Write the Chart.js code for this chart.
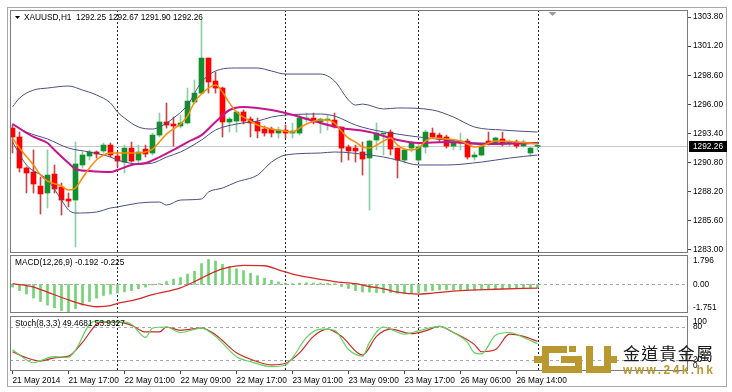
<!DOCTYPE html>
<html>
<head>
<meta charset="utf-8">
<script src="https://cdn.jsdelivr.net/npm/chart.js@4.4.1/dist/chart.umd.min.js"></script>
<style>
  html, body { margin: 0; padding: 0; background: #fff; }
  body { width: 732px; height: 392px; position: relative; overflow: hidden; }
  #frame { position: absolute; left: 7px; top: 7px; width: 720px; height: 380px; border: 1px solid #a8a8a8; box-sizing: border-box; }
  .pane { position: absolute; left: 10px; width: 722px; }
</style>
</head>
<body>
<div id="frame"></div>
<div class="pane" style="top:10px;height:243px"><canvas id="mainChart"></canvas></div>
<div class="pane" style="top:255px;height:58px"><canvas id="macdChart"></canvas></div>
<div class="pane" style="top:316px;height:76px"><canvas id="stochChart"></canvas></div>
<script>
// XAUUSD H1 candles, bar 0 = 21 May 2014
const openP = [1293.89, 1293.09, 1290.32, 1289.96, 1288.71, 1288.09, 1289.78, 1288.62, 1287.55, 1287.46,
  1290.59, 1291.39, 1291.75, 1291.84, 1292.37, 1291.39, 1290.85, 1292.10, 1291.03, 1292.01,
  1291.66, 1293.26, 1294.43, 1294.25, 1294.07, 1294.34, 1296.21, 1297.01, 1300.14, 1298.09,
  1297.46, 1294.43, 1294.51, 1295.32, 1294.69, 1294.43, 1293.80, 1293.80, 1293.44, 1293.71,
  1293.44, 1293.44, 1294.69, 1294.78, 1294.43, 1294.60, 1294.60, 1293.98, 1292.19, 1292.10,
  1291.75, 1291.21, 1292.82, 1293.35, 1293.53, 1292.10, 1291.03, 1292.10, 1291.03, 1292.19,
  1293.44, 1293.26, 1293.09, 1292.28, 1292.55, 1292.73, 1291.30, 1291.48, 1292.73, 1292.55,
  1292.91, 1292.55, 1292.64, 1292.28, 1291.66, 1292.25];
const highP = [1294.16, 1293.53, 1290.41, 1291.93, 1289.51, 1291.93, 1290.59, 1288.98, 1288.09, 1292.64,
  1291.75, 1291.93, 1291.84, 1292.55, 1292.55, 1291.75, 1292.37, 1292.64, 1292.37, 1292.37,
  1293.44, 1295.23, 1296.12, 1294.87, 1295.05, 1297.46, 1298.18, 1303.53, 1300.14, 1298.89,
  1297.55, 1294.87, 1295.41, 1295.50, 1294.87, 1294.78, 1294.07, 1293.98, 1293.98, 1294.16,
  1294.34, 1295.05, 1295.23, 1295.23, 1294.78, 1295.05, 1295.23, 1293.98, 1292.37, 1292.37,
  1292.64, 1292.82, 1294.34, 1293.44, 1293.71, 1292.10, 1292.10, 1292.73, 1292.55, 1293.71,
  1293.89, 1293.44, 1293.26, 1292.82, 1293.44, 1292.91, 1291.75, 1292.55, 1293.53, 1293.09,
  1293.53, 1292.82, 1292.82, 1292.82, 1292.19, 1292.67];
const lowP = [1291.66, 1289.96, 1288.09, 1288.09, 1286.21, 1286.75, 1288.09, 1286.12, 1286.84, 1283.27,
  1290.32, 1291.03, 1291.21, 1291.66, 1291.30, 1290.41, 1289.87, 1290.85, 1290.76, 1291.30,
  1291.48, 1293.09, 1293.89, 1292.28, 1293.89, 1294.25, 1296.03, 1296.93, 1297.01, 1297.01,
  1293.09, 1293.53, 1293.53, 1294.25, 1293.09, 1293.00, 1293.17, 1293.09, 1293.00, 1293.00,
  1293.00, 1293.26, 1294.43, 1294.25, 1293.44, 1293.71, 1293.89, 1290.85, 1291.03, 1290.85,
  1289.69, 1286.57, 1291.93, 1291.48, 1291.48, 1289.43, 1290.76, 1291.75, 1290.85, 1291.66,
  1293.00, 1292.64, 1292.10, 1291.93, 1291.93, 1291.12, 1291.03, 1291.39, 1292.37, 1292.46,
  1292.28, 1292.28, 1292.10, 1292.19, 1291.39, 1291.90];
const closeP = [1293.09, 1290.32, 1289.87, 1288.89, 1288.00, 1289.69, 1288.44, 1287.46, 1287.37, 1290.68,
  1291.48, 1291.75, 1291.57, 1292.37, 1291.48, 1290.94, 1292.10, 1290.94, 1291.75, 1291.57,
  1293.26, 1294.43, 1294.16, 1294.07, 1294.34, 1296.30, 1297.01, 1300.14, 1298.00, 1297.46,
  1294.43, 1294.69, 1295.32, 1294.51, 1294.34, 1293.62, 1293.44, 1293.44, 1293.71, 1293.44,
  1293.62, 1294.78, 1294.78, 1294.43, 1294.69, 1294.69, 1293.98, 1292.10, 1291.84, 1291.84,
  1291.12, 1292.73, 1293.44, 1293.44, 1292.01, 1291.03, 1291.93, 1292.55, 1292.19, 1293.53,
  1293.09, 1292.91, 1292.28, 1292.64, 1292.73, 1291.30, 1291.48, 1292.28, 1292.46, 1293.00,
  1292.46, 1292.64, 1292.28, 1292.64, 1292.10, 1292.26];

// overlay lines, [bar, price]
const bbUpper = [[0,1295.77],[1,1296.57],[3,1297.28],[5,1297.46],[8,1297.64],[10,1297.28],[12,1296.84],[14,1296.12],
  [15,1295.32],[16,1294.78],[18,1293.98],[20,1293.80],[21,1293.98],[23,1294.78],[25,1295.94],[27,1298.00],[29,1298.98],
  [32,1299.25],[35,1299.25],[37,1298.98],[39,1298.71],[44,1298.71],[46,1298.09],[48,1296.39],[49,1295.94],[50,1296.03],
  [53,1295.59],[55,1295.68],[60,1295.50],[63,1294.87],[66,1293.98],[70,1293.71],[75,1293.53]];
const bbMiddle = [[0,1294.25],[2,1293.53],[5,1292.91],[8,1292.10],[11,1291.75],[14,1291.30],[15,1291.03],[18,1290.68],
  [20,1290.76],[22,1291.30],[24,1291.75],[27,1292.82],[29,1293.71],[32,1294.25],[35,1294.51],[37,1294.87],[39,1295.05],
  [44,1295.14],[46,1294.96],[49,1294.16],[51,1293.80],[55,1293.35],[58,1293.09],[62,1292.82],[67,1292.55],[75,1292.55]];
const bbLower = [[0,1292.64],[2,1290.59],[5,1289.25],[7,1287.46],[8,1286.57],[9,1286.30],[12,1286.39],[14,1286.75],
  [15,1286.84],[18,1287.19],[21,1287.28],[22,1287.01],[24,1287.46],[27,1287.55],[28,1288.18],[30,1288.53],[32,1289.07],
  [35,1289.69],[37,1290.85],[39,1291.48],[44,1291.66],[46,1291.75],[51,1291.48],[53,1291.30],[55,1291.03],[58,1290.59],
  [62,1290.59],[67,1290.85],[71,1291.21],[75,1291.48]];
const maSlow = [[0,1294.25],[3,1293.09],[5,1292.55],[6,1291.93],[8,1290.76],[9,1290.23],[11,1290.05],[14,1289.96],
  [15,1290.14],[17,1290.59],[19,1290.76],[21,1291.30],[23,1291.93],[25,1292.64],[27,1293.26],[29,1294.43],[31,1295.50],
  [33,1295.77],[37,1295.50],[39,1295.23],[44,1294.34],[47,1293.89],[51,1293.53],[55,1292.82],[58,1292.55],[62,1292.64],
  [67,1292.46],[75,1292.55]];
const maFast = [[0,1292.99],[1,1292.10],[3,1290.59],[4,1289.69],[5,1289.16],[7,1288.71],[8,1288.35],[9,1288.53],
  [10,1289.43],[11,1290.32],[12,1291.03],[13,1291.48],[14,1291.66],[17,1291.66],[19,1291.75],[20,1292.01],[22,1293.35],
  [24,1294.25],[25,1294.96],[26,1296.21],[27,1296.93],[28,1297.46],[29,1297.73],[30,1297.10],[31,1296.12],[32,1295.32],
  [34,1294.51],[35,1294.16],[37,1293.80],[39,1293.62],[40,1293.53],[41,1293.89],[42,1294.25],[44,1294.60],[45,1294.60],
  [46,1294.34],[47,1293.62],[48,1292.99],[49,1292.64],[50,1292.19],[51,1292.10],[52,1292.37],[53,1292.73],[54,1292.99],
  [55,1292.37],[56,1292.01],[57,1291.93],[58,1292.10],[59,1292.73],[60,1292.99],[62,1292.91],[64,1292.73],[65,1292.46],
  [66,1292.19],[67,1292.28],[69,1292.73],[72,1292.64],[75,1292.46]];

// MACD(12,26,9)
const macdMain = [-0.17, -0.38, -0.59, -0.84, -1.05, -1.27, -1.43, -1.60, -1.69, -1.48,
  -1.27, -1.05, -0.84, -0.68, -0.59, -0.53, -0.46, -0.38, -0.27, -0.17,
  -0.04, 0.04, 0.17, 0.32, 0.42, 0.63, 0.80, 1.27, 1.52, 1.43,
  1.22, 1.10, 0.95, 0.84, 0.68, 0.53, 0.38, 0.25, 0.15, 0.06,
  0.04, 0.08, 0.10, 0.08, 0.08, 0.06, 0.04, -0.13, -0.25, -0.38,
  -0.47, -0.47, -0.50, -0.52, -0.50, -0.55, -0.58, -0.56, -0.50, -0.42,
  -0.38, -0.34, -0.34, -0.34, -0.32, -0.34, -0.36, -0.32, -0.28, -0.26,
  -0.26, -0.24, -0.23, -0.21, -0.21, -0.192];
const macdSignal = [[0,0.04],[3,-0.17],[5,-0.48],[8,-0.95],[10,-1.22],[12,-1.37],[14,-1.30],[15,-1.16],[17,-1.00],
  [20,-0.63],[24,-0.21],[27,0.38],[29,0.80],[31,1.05],[33,1.16],[36,1.14],[38,0.89],[40,0.63],[43,0.38],[46,0.17],
  [49,0.04],[51,-0.13],[53,-0.27],[55,-0.48],[58,-0.60],[60,-0.53],[64,-0.38],[69,-0.30],[75,-0.225]];

// Stoch(8,3,3)
const stochMain = [[0,38.6],[1,29],[3,15],[4,19],[6,26],[8,25],[9,38],[11,85],[12,91],[14,89],[16,89],[17,85],[19,61],
  [20,78],[22,80],[24,70],[27,78],[29,63],[32,26],[34,17],[37,8],[39,11],[40,24],[42,61],[44,76],[46,74],[48,39],[50,27],
  [51,52],[53,80],[54,76],[56,67],[58,73],[61,81],[63,70],[65,52],[66,33],[67,31],[69,65],[71,70],[73,61],[75,49.4681]];
const stochSignal = [[0,35],[2,24],[4,18],[6,24],[8,27],[10,52],[12,85],[13,89],[15,89],[17,83],[19,71],[21,71],[22,80],
  [24,74],[27,78],[29,66],[32,33],[35,17],[37,11],[39,14],[41,33],[43,63],[45,76],[47,63],[50,29],[52,63],[54,76],[57,68],
  [59,73],[61,81],[63,70],[66,48],[67,35],[69,39],[71,67],[73,63],[75,53.9327]];

const timeTicks = [0, 8, 16, 24, 32, 40, 48, 56, 64, 72];
const timeLabels = ['21 May 2014', '21 May 17:00', '22 May 01:00', '22 May 09:00', '22 May 17:00',
  '23 May 01:00', '23 May 09:00', '23 May 17:00', '26 May 06:00', '26 May 14:00'];
const separators = [15, 39, 58, 75];
const priceTicks = [1303.80, 1301.20, 1298.60, 1296.00, 1293.40, 1290.80, 1288.20, 1285.60, 1283.00];
const macdTicks = [1.796, 0, -1.751];
const stochTicks = [100, 80, 20, 0];
const stochLevels = [80, 20];
const shiftBar = 77;

Chart.defaults.font.family = '"Liberation Sans", Arial, sans-serif';
Chart.defaults.font.size = 8.3;
Chart.defaults.color = '#000';
Chart.defaults.animation = false;
const FONT = '8.3px "Liberation Sans", Arial, sans-serif';

// 7 px per bar, bar 0 centred 2.5 px inside the panel
const X_MIN = -2.5 / 7;
const X_MAX = X_MIN + 678 / 7;

const pts = arr => arr.map(([x, y]) => ({ x, y }));
const last = closeP.length - 1;
const isUp = closeP.map((c, i) => c >= openP[i]);

function noPad(s) {
  s.paddingTop = 0; s.paddingBottom = 0; s.paddingLeft = 0; s.paddingRight = 0;
}

function xAxis(show) {
  const ax = { type: 'linear', min: X_MIN, max: X_MAX, offset: false, display: show };
  if (show) {
    Object.assign(ax, {
      position: 'bottom',
      afterFit: s => { s.height = 21; noPad(s); },
      afterBuildTicks: s => { s.ticks = timeTicks.map(v => ({ value: v })); },
      border: { display: false },
      grid: { drawOnChartArea: false, drawTicks: true, tickLength: 3, color: '#444' },
      ticks: { align: 'start', padding: 2, maxRotation: 0, autoSkip: false,
        callback: v => timeLabels[timeTicks.indexOf(v)] }
    });
  }
  return ax;
}

function yAxis(min, max, extra) {
  return Object.assign({
    type: 'linear', position: 'right', min: min, max: max,
    afterFit: s => { s.width = 44; noPad(s); },
    border: { display: false },
    grid: { drawOnChartArea: false, drawTicks: true, tickLength: 3, color: '#444' },
    ticks: { padding: 2 }
  }, extra || {});
}

const panelFrame = {
  id: 'panelFrame',
  beforeDatasetsDraw(chart) {
    const { ctx, chartArea: a, scales } = chart;
    ctx.save();
    ctx.strokeStyle = '#222';
    ctx.lineWidth = 1;
    ctx.setLineDash([2, 2]);
    separators.forEach(i => {
      const x = Math.round(scales.x.getPixelForValue(i)) + 0.5;
      ctx.beginPath(); ctx.moveTo(x, a.top); ctx.lineTo(x, a.bottom); ctx.stroke();
    });
    ctx.restore();
  },
  afterDraw(chart) {
    const { ctx, chartArea: a } = chart;
    ctx.save();
    ctx.strokeStyle = '#7a7a7a';
    ctx.lineWidth = 1;
    ctx.strokeRect(a.left + 0.5, a.top + 0.5, a.right - a.left - 1, a.bottom - a.top - 1);
    ctx.restore();
  }
};

function dottedLevels(chart, values) {
  const { ctx, chartArea: a, scales: { y } } = chart;
  ctx.save();
  ctx.strokeStyle = '#a8a8a8';
  ctx.setLineDash([3, 3]);
  values.forEach(v => {
    const py = Math.round(y.getPixelForValue(v)) + 0.5;
    ctx.beginPath(); ctx.moveTo(a.left, py); ctx.lineTo(a.right, py); ctx.stroke();
  });
  ctx.restore();
}

function sideLabels(chart, values, fmt) {
  const { ctx, chartArea: a, scales: { y } } = chart;
  ctx.save();
  ctx.font = FONT;
  ctx.fillStyle = '#000';
  ctx.textBaseline = 'middle';
  values.forEach(v => {
    const py = Math.min(Math.max(y.getPixelForValue(v), a.top + 6), a.bottom - 5);
    ctx.fillText(fmt(v), a.right + 5, py);
  });
  ctx.restore();
}

function title(chart, text) {
  const { ctx, chartArea: a } = chart;
  ctx.save();
  ctx.font = FONT;
  ctx.fillStyle = '#000';
  ctx.textBaseline = 'middle';
  ctx.fillText(text, a.left + 5, a.top + 8);
  ctx.restore();
}

const mainDecor = {
  id: 'mainDecor',
  beforeDatasetsDraw(chart) {
    const { ctx, chartArea: a, scales: { y } } = chart;
    const py = Math.round(y.getPixelForValue(closeP[last])) + 0.5;
    ctx.save();
    ctx.strokeStyle = '#c8c8c8';
    ctx.beginPath(); ctx.moveTo(a.left, py); ctx.lineTo(a.right, py); ctx.stroke();
    ctx.restore();
  },
  afterDraw(chart) {
    const { ctx, chartArea: a, scales: { x, y } } = chart;
    ctx.save();
    // symbol line
    ctx.fillStyle = '#000';
    ctx.beginPath();
    ctx.moveTo(a.left + 5, a.top + 6); ctx.lineTo(a.left + 10, a.top + 6); ctx.lineTo(a.left + 7.5, a.top + 9);
    ctx.closePath(); ctx.fill();
    ctx.font = FONT;
    ctx.textBaseline = 'middle';
    const head = 'XAUUSD,H1  ' + [openP[last], highP[last], lowP[last], closeP[last]].map(v => v.toFixed(2)).join(' ');
    ctx.fillText(head, a.left + 14, a.top + 8);
    // last price tag
    const py = Math.round(y.getPixelForValue(closeP[last]));
    ctx.fillRect(a.right + 1, py - 5, 38, 11);
    ctx.fillStyle = '#fff';
    ctx.fillText(closeP[last].toFixed(2), a.right + 5, py + 0.5);
    // chart shift marker
    const sx = Math.round(x.getPixelForValue(shiftBar)) + 0.5;
    ctx.fillStyle = '#9a9a9a';
    ctx.beginPath();
    ctx.moveTo(sx - 4, a.top + 2); ctx.lineTo(sx + 4, a.top + 2); ctx.lineTo(sx, a.top + 6);
    ctx.closePath(); ctx.fill();
    ctx.restore();
  }
};

const macdDecor = {
  id: 'macdDecor',
  beforeDatasetsDraw(chart) { dottedLevels(chart, [0]); },
  afterDraw(chart) {
    sideLabels(chart, macdTicks, v => v === 0 ? '0.00' : v.toString());
    title(chart, 'MACD(12,26,9) ' + macdMain[last].toFixed(3) + ' ' + macdSignal[macdSignal.length - 1][1].toFixed(3));
  }
};

function drawLogo(ctx) {
  ctx.save();
  ctx.translate(-10, -316); // page coordinates
  ctx.fillStyle = '#b9982f';
  const r = (x, y, w, h) => ctx.fillRect(x, y, w, h);
  r(534, 356, 8, 7);
  r(542, 346, 25, 7);
  r(542, 346, 7, 27);
  r(542, 366, 40, 7);
  r(575, 356, 7, 17);
  r(561, 356, 21, 7);
  r(569, 346, 7, 6);
  r(586, 346, 7, 27);
  r(604, 346, 7, 27);
  r(586, 366, 25, 7);
  r(611, 356, 6, 7);
  ctx.textBaseline = 'middle';
  ctx.fillStyle = '#1c1c1c';
  ctx.font = '17px "Noto Sans CJK TC", "Noto Sans CJK SC", sans-serif';
  const cn = '金道貴金屬';
  let w = ctx.measureText(cn).width;
  ctx.letterSpacing = Math.max(0, (90 - w) / 4) + 'px';
  ctx.fillText(cn, 623, 354);
  ctx.fillStyle = '#b9982f';
  ctx.font = 'bold 12px "Liberation Sans", Arial, sans-serif';
  ctx.letterSpacing = '0px';
  const url = 'www.24k.hk';
  w = ctx.measureText(url).width;
  ctx.letterSpacing = Math.max(0, (90 - w) / 9) + 'px';
  ctx.fillText(url, 623, 371);
  ctx.restore();
}

const stochDecor = {
  id: 'stochDecor',
  beforeDatasetsDraw(chart) { dottedLevels(chart, stochLevels); },
  afterDraw(chart) {
    sideLabels(chart, stochTicks, v => String(v));
    title(chart, 'Stoch(8,3,3) ' + stochMain[stochMain.length - 1][1].toFixed(4) + ' ' +
      stochSignal[stochSignal.length - 1][1].toFixed(4));
    drawLogo(chart.ctx);
  }
};

const baseOptions = {
  responsive: true,
  maintainAspectRatio: false,
  layout: { padding: 0, autoPadding: false },
  plugins: { legend: { display: false }, tooltip: { enabled: false } },
  elements: { point: { radius: 0 } }
};

const lineSet = (data, color, width, order) => ({
  type: 'line', data: pts(data), borderColor: color, borderWidth: width,
  pointRadius: 0, cubicInterpolationMode: 'monotone', fill: false, order: order
});

// price panel
new Chart(document.getElementById('mainChart'), {
  type: 'bar',
  data: {
    datasets: [
      lineSet(maFast, '#ff8c00', 1.5, 0),
      lineSet(maSlow, '#c8148c', 2, 1),
      lineSet(bbUpper, '#4e4e80', 1, 2),
      lineSet(bbMiddle, '#4e4e80', 1, 2),
      lineSet(bbLower, '#4e4e80', 1, 2),
      {
        type: 'bar', order: 3, grouped: false, barThickness: 5, minBarLength: 1,
        data: openP.map((o, i) => ({ x: i, y: [o, closeP[i]] })),
        backgroundColor: isUp.map(u => u ? '#138f2e' : '#ff0000')
      },
      {
        type: 'bar', order: 4, grouped: false, barThickness: 1,
        data: lowP.map((l, i) => ({ x: i, y: [l, highP[i]] })),
        backgroundColor: isUp.map(u => u ? '#8ccfa6' : '#c44848')
      }
    ]
  },
  options: Object.assign({}, baseOptions, {
    scales: {
      x: xAxis(false),
      y: yAxis(1282.73, 1304.43, {
        afterBuildTicks: s => { s.ticks = priceTicks.map(v => ({ value: v })); },
        ticks: { padding: 2, callback: v => v.toFixed(2) }
      })
    }
  }),
  plugins: [panelFrame, mainDecor]
});

// MACD panel
new Chart(document.getElementById('macdChart'), {
  type: 'bar',
  data: {
    datasets: [
      lineSet(macdSignal, '#d42a2a', 1.3, 0),
      {
        type: 'bar', order: 1, grouped: false, barThickness: 2,
        data: macdMain.map((v, i) => ({ x: i, y: v })),
        backgroundColor: '#74d474'
      }
    ]
  },
  options: Object.assign({}, baseOptions, {
    scales: {
      x: xAxis(false),
      y: yAxis(-1.751, 1.796, { ticks: { display: false }, grid: { display: false } })
    }
  }),
  plugins: [panelFrame, macdDecor]
});

// Stochastic panel
new Chart(document.getElementById('stochChart'), {
  type: 'line',
  data: {
    datasets: [
      lineSet(stochSignal, '#cc2a2a', 1.2, 1),
      lineSet(stochMain, '#5fd35f', 1.2, 0)
    ]
  },
  options: Object.assign({}, baseOptions, {
    scales: {
      x: xAxis(true),
      y: yAxis(0, 100, { ticks: { display: false }, grid: { display: false } })
    }
  }),
  plugins: [panelFrame, stochDecor]
});
</script>
</body>
</html>
